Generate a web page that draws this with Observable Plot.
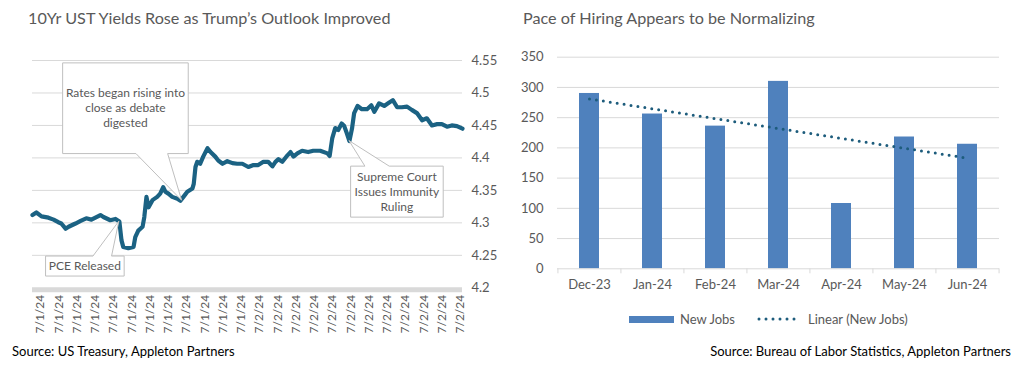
<!DOCTYPE html>
<html>
<head>
<meta charset="utf-8">
<script src="https://cdn.jsdelivr.net/npm/d3@7"></script>
<script src="https://cdn.jsdelivr.net/npm/@observablehq/plot@0.6"></script>
<style>
  body { margin: 0; background: #fff; }
  #root { position: relative; width: 1024px; height: 369px; overflow: hidden; font-family: Lato, "Open Sans", sans-serif; color: #595959; background: #fff; }
  .abs { position: absolute; white-space: nowrap; line-height: 20px; }
  .title { font-size: 16.2px; }
  .src { font-size: 13px; color: #000; }
  .legend { font-size: 13px; display: flex; align-items: center; }
  .panel { position: absolute; top: 0; }
  .panel svg { background: transparent !important; }
</style>
</head>
<body>
<div id="root"></div>
<script>
// ---------- Left chart data: 10Yr UST intraday yield (7/1/24 – 7/2/24) ----------
// session progress (0–100 across the two days) and yield (%)
const yieldTime = [0,0.9,2.1,3.7,4.9,6.0,6.7,7.7,8.4,10.0,11.2,12.5,13.7,15.8,16.5,18.1,19.3,20.2,20.7,21.1,22.3,23.5,23.9,24.6,25.6,26.0,26.5,27.0,27.9,29.0,29.7,30.4,30.9,31.6,32.5,33.7,34.4,35.1,36.0,37.2,37.5,37.9,38.3,39.0,39.7,40.7,41.4,42.5,43.2,44.2,45.3,46.5,47.6,48.8,50.2,51.4,52.5,53.7,54.8,55.8,56.5,57.2,58.1,59.3,60.0,60.7,61.6,62.7,64.1,65.3,66.9,68.6,69.1,69.7,70.4,71.1,71.9,72.5,73.1,73.7,74.3,74.8,75.6,76.6,77.8,78.8,79.5,80.6,81.8,82.7,83.8,84.8,85.9,87.1,88.2,89.4,90.6,91.7,92.9,94.1,95.2,96.4,97.5,98.7,100];
const yieldValue = [4.312,4.316,4.310,4.308,4.305,4.301,4.299,4.291,4.294,4.299,4.303,4.307,4.305,4.312,4.309,4.304,4.306,4.302,4.273,4.263,4.261,4.263,4.278,4.288,4.294,4.309,4.340,4.324,4.335,4.340,4.345,4.355,4.348,4.345,4.340,4.337,4.334,4.340,4.348,4.353,4.360,4.386,4.394,4.391,4.402,4.415,4.409,4.402,4.396,4.391,4.395,4.392,4.391,4.391,4.386,4.389,4.389,4.394,4.394,4.387,4.394,4.398,4.394,4.404,4.409,4.402,4.407,4.411,4.409,4.411,4.411,4.407,4.403,4.430,4.446,4.443,4.453,4.449,4.438,4.426,4.445,4.469,4.480,4.475,4.475,4.481,4.471,4.484,4.480,4.484,4.489,4.478,4.478,4.479,4.474,4.469,4.458,4.461,4.450,4.452,4.452,4.448,4.450,4.449,4.445];
const xTickLabels = ["7/1/24","7/1/24","7/1/24","7/1/24","7/1/24","7/1/24","7/1/24","7/1/24","7/1/24","7/1/24","7/1/24","7/1/24",
                     "7/2/24","7/2/24","7/2/24","7/2/24","7/2/24","7/2/24","7/2/24","7/2/24","7/2/24","7/2/24","7/2/24","7/2/24"];
const yieldTicks = [4.2,4.25,4.3,4.35,4.4,4.45,4.5,4.55];
const calloutText = [
  ["PCE Released"],
  ["Rates began rising into","close as debate","digested"],
  ["Supreme Court","Issues Immunity","Ruling"]
];
const calloutTime = [20.2, 34.8, 73.7];
const calloutValue = [4.302, 4.334, 4.426];

// ---------- Right chart data: new jobs (thousands) ----------
const months = ["Dec-23","Jan-24","Feb-24","Mar-24","Apr-24","May-24","Jun-24"];
const newJobs = [290,256,236,310,108,218,206];
const trendMonths = ["Dec-23","Jun-24"];
const trendValues = [281,183];
const jobTicks = [0,50,100,150,200,250,300,350];

// ---------- styles / layout ----------
const GRID = "#d9d9d9";
const TEXT = "#595959";
const LINE = "#1b6283";
const BAR = "#4f81bd";
const TREND = "#1d5c7c";
const NS = "http://www.w3.org/2000/svg";

// callout box geometry (pixel offsets relative to the pointed-at data point)
const calloutBox = [
  {dx: -73.3, dy: 35, w: 78.6, h: 20, w0: 47.4, w1: 66, edge: "top"},
  {dx: -119, dy: -137.4, w: 125.6, h: 90.7, w0: 73.3, w1: 105, edge: "bottom"},
  {dx: 1.7, dy: 25.6, w: 92.6, h: 51, w0: 14.3, w1: 38.6, edge: "top"}
];

function calloutMark(index, scales) {
  const g = document.createElementNS(NS, "g");
  calloutText.forEach((lines, i) => {
    const b = calloutBox[i];
    const tx = scales.x(calloutTime[i]), ty = scales.y(calloutValue[i]);
    const bx = tx + b.dx, by = ty + b.dy;
    let d;
    if (b.edge === "bottom") {
      d = `M${bx},${by}H${bx + b.w}V${by + b.h}H${bx + b.w1}L${tx},${ty}L${bx + b.w0},${by + b.h}H${bx}Z`;
    } else {
      d = `M${bx},${by}H${bx + b.w0}L${tx},${ty}L${bx + b.w1},${by}H${bx + b.w}V${by + b.h}H${bx}Z`;
    }
    const p = document.createElementNS(NS, "path");
    p.setAttribute("d", d);
    p.setAttribute("fill", "#fff");
    p.setAttribute("stroke", "#bfbfbf");
    p.setAttribute("stroke-width", "1");
    g.appendChild(p);
    const cx = bx + b.w / 2, cy = by + b.h / 2;
    const lh = 15;
    lines.forEach((s, j) => {
      const t = document.createElementNS(NS, "text");
      t.setAttribute("x", cx);
      t.setAttribute("y", cy + (j - (lines.length - 1) / 2) * lh);
      t.setAttribute("dy", "0.35em");
      t.setAttribute("text-anchor", "middle");
      t.setAttribute("fill", TEXT);
      t.setAttribute("font-size", "12px");
      t.textContent = s;
      g.appendChild(t);
    });
  });
  return g;
}

const root = document.getElementById("root");
function addDiv(cls, html, style) {
  const d = document.createElement("div");
  d.className = "abs " + cls;
  d.innerHTML = html;
  Object.assign(d.style, style);
  root.appendChild(d);
  return d;
}

// ---------- Left chart ----------
const yieldData = yieldTime.map((t, i) => ({t, v: yieldValue[i]}));
const tickPos = xTickLabels.map((_, i) => 1.86 + i * 4.245);
const left = Plot.plot({
  width: 512, height: 345,
  marginLeft: 32, marginRight: 50, marginTop: 60, marginBottom: 57.7,
  style: {fontFamily: "Lato, 'Open Sans', sans-serif", color: TEXT, background: "transparent"},
  x: {domain: [0, 100]},
  y: {domain: [4.2, 4.55]},
  marks: [
    Plot.ruleY(yieldTicks.filter(d => d > 4.2), {stroke: GRID, strokeWidth: 1}),
    Plot.ruleY([4.2], {stroke: GRID, strokeWidth: 5, dy: 2}),
    Plot.axisY(yieldTicks, {anchor: "right", tickSize: 0, tickPadding: 9, fontSize: 13, tickFormat: d => String(+d.toFixed(2)), label: null}),
    Plot.axisX(tickPos, {anchor: "bottom", tickSize: 0, tickPadding: 7, tickRotate: -90, fontSize: 12, tickFormat: (d, i) => xTickLabels[i], label: null}),
    Plot.line(yieldData, {x: "t", y: "v", stroke: LINE, strokeWidth: 4.2, strokeLinejoin: "round", strokeLinecap: "round"}),
    calloutMark
  ]
});
const lp = document.createElement("div");
lp.className = "panel"; lp.style.left = "0px";
lp.appendChild(left);
root.appendChild(lp);

// ---------- Right chart ----------
const jobsData = months.map((m, i) => ({m, v: newJobs[i]}));
const trendData = trendMonths.map((m, i) => ({m, v: trendValues[i]}));
const RW = 512, RML = 45, RMR = 25;
const step = (RW - RML - RMR) / months.length;
const right = Plot.plot({
  width: RW, height: 300,
  marginLeft: RML, marginRight: RMR, marginTop: 56.7, marginBottom: 31.7,
  style: {fontFamily: "Lato, 'Open Sans', sans-serif", color: TEXT, background: "transparent"},
  x: {domain: months, paddingInner: 0.69, paddingOuter: 0.345},
  y: {domain: [0, 350]},
  marks: [
    Plot.ruleY(jobTicks.filter(d => d > 0), {stroke: GRID, strokeWidth: 1}),
    Plot.axisY(jobTicks, {anchor: "left", tickSize: 0, tickPadding: 14, fontSize: 13, label: null}),
    Plot.axisX({anchor: "bottom", tickSize: 0, tickPadding: 11, fontSize: 13, label: null}),
    Plot.barY(jobsData, {x: "m", y: "v", fill: BAR}),
    Plot.ruleY([0], {stroke: GRID, strokeWidth: 1}),
    Plot.ruleX(months, {x: d => d, y1: 0, y2: 0, dx: -step / 2, insetBottom: -5, stroke: GRID}),
    Plot.ruleX([months[months.length - 1]], {x: d => d, y1: 0, y2: 0, dx: step / 2, insetBottom: -5, stroke: GRID}),
    Plot.line(trendData, {x: "m", y: "v", stroke: TREND, strokeWidth: 3, strokeDasharray: "0 7", strokeLinecap: "round"})
  ]
});
const rp = document.createElement("div");
rp.className = "panel"; rp.style.left = "512px";
rp.appendChild(right);
root.appendChild(rp);

// ---------- Titles, legend, sources ----------
addDiv("title", "10Yr UST Yields Rose as Trump’s Outlook Improved", {left: "28px", top: "8px"});
addDiv("title", "Pace of Hiring Appears to be Normalizing", {left: "523px", top: "8px"});

const lg = addDiv("legend", "", {left: "629px", top: "309px"});
lg.innerHTML =
  `<span style="display:inline-block;width:45px;height:7px;background:${BAR};margin-right:6px"></span>` +
  `<span style="margin-right:22px">New Jobs</span>` +
  `<svg width="45" height="8" style="margin-right:6px"><line x1="2" y1="4" x2="44" y2="4" stroke="${TREND}" stroke-width="3" stroke-linecap="round" stroke-dasharray="0 7"/></svg>` +
  `<span>Linear (New Jobs)</span>`;

addDiv("src", "Source: US Treasury, Appleton Partners", {left: "12px", top: "341px"});
addDiv("src", "Source: Bureau of Labor Statistics, Appleton Partners", {right: "13px", top: "341px"});
</script>
</body>
</html>
